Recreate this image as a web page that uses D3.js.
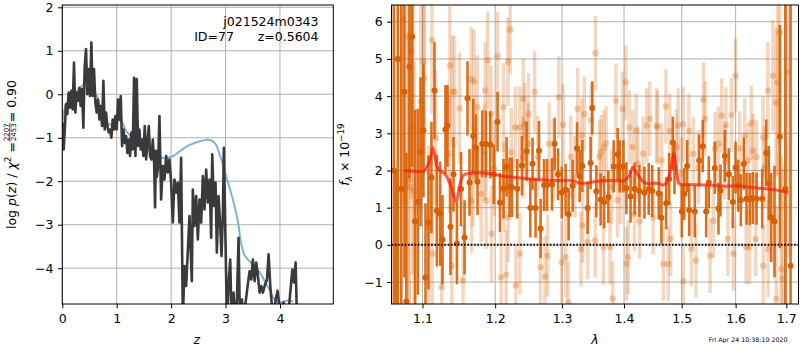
<!DOCTYPE html>
<html><head><meta charset="utf-8">
<script src="https://cdn.jsdelivr.net/npm/d3@7"></script>
<style>body{margin:0;background:#fff}svg{font-family:"DejaVu Sans";display:block}</style>
</head><body><svg id="c" width="800" height="350"></svg>
<script>
// ---------- left panel: redshift PDF ----------
const pzZ=[0.006,0.025,0.049,0.067,0.092,0.117,0.141,0.166,0.19,0.215,0.239,0.264,0.288,0.313,0.337,0.362,0.387,0.411,0.436,0.46,0.485,0.509,0.534,0.558,0.583,0.607,0.632,0.656,0.681,0.706,0.73,0.755,0.779,0.804,0.828,0.853,0.877,0.902,0.926,0.951,0.975,1.0,1.025,1.049,1.074,1.098,1.123,1.147,1.172,1.196,1.221,1.245,1.27,1.294,1.319,1.344,1.368,1.393,1.417,1.442,1.466,1.491,1.515,1.54,1.564,1.589,1.613,1.638,1.663,1.687,1.705,1.72,1.736,1.761,1.785,1.816,1.847,1.877,1.908,1.939,1.969,2.0,2.031,2.061,2.092,2.123,2.153,2.184,2.215,2.245,2.276,2.337,2.38,2.399,2.429,2.46,2.491,2.521,2.552,2.583,2.613,2.644,2.675,2.706,2.736,2.755,2.785,2.816,2.84,2.871,2.902,2.926,2.951,2.969,2.994,3.025,3.061,3.086,3.11,3.147,3.172,3.209,3.239,3.264,3.301,3.331,3.368,3.405,3.442,3.472,3.503,3.534,3.564,3.595,3.626,3.656,3.687,3.718,3.761,3.791,3.822,3.847,3.883,3.92,3.957,3.982,4.025,4.067,4.104,4.141,4.178,4.227,4.258,4.288,4.313];
const pzLogP=[-0.65,-1.27,-0.73,-0.23,-0.46,0.04,-0.31,0.08,-0.35,0.73,-0.42,0.04,-0.15,0.15,-0.27,0.12,-0.77,0.62,1.04,0,0.58,-0.04,1.19,-0.04,0.58,-0.19,-0.42,-0.12,-0.58,-0.27,-0.73,0.31,-0.81,-0.42,-0.73,-0.88,-0.81,-1.0,-0.58,-0.81,-0.5,-0.81,-0.12,-0.58,-0.04,-1.19,-0.81,-1.12,-0.96,-1.35,-1.04,-1.42,-0.88,-1.27,0.38,-1.42,0.35,-1.19,-0.81,-1.27,-1.04,-1.42,-0.73,-1.5,-1.12,-0.73,-1.42,-1.5,-1.04,-1.58,-2.6,-1.3,-1.9,-1.65,-0.5,-2.42,-1.65,-1.96,-1.42,-1.8,-1.5,-2.03,-2.95,-1.96,-2.26,-2.03,-2.95,-1.46,-5.2,-3.95,-4.41,-2.8,-4.3,-2.19,-3.03,-2.34,-3.34,-2.42,-2.95,-1.88,-2.65,-1.73,-2.49,-1.96,-3.3,-1.38,-2.57,-2.03,-3.64,-2.34,-3.03,-3.72,-2.72,-1.23,-3.03,-5.2,-4.26,-3.8,-5.2,-4.56,-5.2,-4.72,-3.3,-5.2,-4.72,-5.2,-4.79,-4.41,-4.07,-4.26,-3.8,-4.3,-3.87,-4.18,-4.56,-4.41,-4.56,-4.41,-4.26,-3.68,-4.41,-4.79,-5.2,-4.72,-4.52,-4.79,-5.2,-4.79,-5.2,-5.2,-4.72,-4.03,-4.33,-3.87,-5.2];
const priorZ=[0,0.08,0.2,0.33,0.42,0.48,0.55,0.63,0.69,0.76,0.82,0.94,1.03,1.1,1.18,1.3,1.43,1.55,1.67,1.86,2.04,2.17,2.29,2.41,2.53,2.63,2.72,2.82,2.89,2.95,3.01,3.1,3.17,3.23,3.29,3.35,3.44,3.53,3.63,3.75,3.83,3.9,4.0,4.12,4.24];
const priorLogP=[-0.66,-0.2,-0.05,0.15,0.25,0.25,0.15,-0.02,-0.28,-0.55,-0.66,-0.7,-0.59,-0.65,-0.86,-1.0,-1.12,-1.25,-1.35,-1.47,-1.42,-1.3,-1.2,-1.13,-1.08,-1.05,-1.05,-1.15,-1.38,-1.6,-1.88,-2.26,-2.6,-2.95,-3.45,-3.7,-3.84,-3.95,-4.1,-4.37,-4.55,-4.72,-4.79,-4.75,-4.76];
const zTicks=[0,1,2,3,4];
const logpTicks=[-4,-3,-2,-1,0,1,2];
const objName="j021524m0343";
const objInfo="ID=77      z=0.5604";

// ---------- right panel: spectrum ----------
const g1Lam=[1.063,1.066,1.068,1.0725,1.0765,1.079,1.083,1.0866,1.0904,1.094,1.0975,1.1013,1.104,1.1079,1.1119,1.1159,1.1191,1.1236,1.1267,1.1307,1.1334,1.1375,1.1416,1.1463,1.152,1.1568,1.1609,1.1637,1.1689,1.1727,1.1749,1.1815,1.1868,1.1929,1.198,1.2034,1.2069,1.2121,1.2165,1.2208,1.2243,1.2321,1.2391,1.2459,1.2515,1.2549,1.2594,1.2646,1.267,1.2722,1.2768,1.2844,1.2885,1.2937,1.2995,1.3055,1.3102,1.3165,1.3235,1.3276,1.3319,1.3404,1.3452,1.3479,1.3544,1.3614,1.367,1.374,1.3828,1.3894,1.3928,1.399,1.404,1.411,1.418,1.426,1.4346,1.442,1.448,1.4594,1.4641,1.4724,1.4777,1.4841,1.4871,1.5002,1.5045,1.5099,1.5135,1.5237,1.5317,1.5383,1.5446,1.5494,1.5606,1.5675,1.5713,1.5794,1.587,1.5946,1.5998,1.605,1.61,1.6158,1.621,1.6274,1.6333,1.6405,1.6517,1.6596,1.6648,1.6696,1.6762,1.6869,1.698,1.7087];
const g1Flux=[2.0,-3.0,5.0,1.5,4.12,-1.52,4.79,5.6,0.63,1.16,2.5,3.08,-0.88,0.6,1.81,4.15,0.92,0.84,0.14,3.1,3.2,0.49,1.9,0.04,1.5,0.2,3.94,1.68,2.93,2.62,1.7,2.72,2.71,2.69,1.9,3.31,1.14,1.51,2.1,1.55,1.55,1.51,2.13,2.52,1.0,2.18,0.99,2.53,0.44,1.61,1.61,1.62,2.72,1.9,1.41,1.48,0.82,1.59,2.6,1.85,2.12,0.99,2.2,3.68,1.44,1.22,1.15,1.29,2.11,2.44,2.11,2.11,1.52,1.3,1.51,1.45,1.4,1.5,1.45,1.39,0.73,1.12,1.77,2.75,2.07,0.9,1.37,2.12,0.94,0.9,2.27,2.65,0.9,1.68,2.07,0.98,1.46,2.39,1.9,1.15,2.08,1.59,1.2,2.18,1.24,1.23,1.26,1.24,1.24,2.47,1.66,0.74,0.63,2.91,1.5,-0.56];
const g1Err=[9,5,7,6,5,4,3,3.5,3,2.5,2,1.8,2,1.8,1.5,1.3,1.5,1.4,1.2,1.2,1.1,1.3,1.0,1.1,1.0,1.0,1.0,0.9,1.0,0.9,0.9,0.9,0.9,0.9,0.8,0.8,0.8,0.8,0.8,0.8,0.8,0.8,0.8,0.8,0.8,0.7,0.8,0.8,0.8,0.7,0.7,0.7,0.7,0.7,0.7,0.7,0.7,0.7,0.7,0.7,0.7,0.7,0.7,0.72,0.7,0.7,0.7,0.7,0.7,0.7,0.7,0.7,0.7,0.7,0.7,0.7,0.7,0.7,0.7,0.7,0.7,0.7,0.7,0.7,0.7,0.7,0.7,0.7,0.7,0.7,0.7,0.7,0.7,0.7,0.7,0.7,0.7,0.7,0.7,0.7,0.7,0.7,0.7,0.7,0.7,0.7,0.7,0.7,0.8,0.9,1.0,1.2,1.5,3,9,9];
const g2Lam=[1.075,1.0806,1.0819,1.0829,1.0853,1.0875,1.089,1.0978,1.1014,1.1024,1.1083,1.1125,1.113,1.1176,1.1256,1.1361,1.1367,1.1394,1.1399,1.1431,1.15,1.1547,1.1663,1.1665,1.1686,1.17,1.1746,1.1801,1.1847,1.1857,1.1871,1.1894,1.194,1.1947,1.1986,1.2036,1.2085,1.2119,1.2125,1.2159,1.2184,1.2188,1.2218,1.2233,1.2292,1.23,1.2356,1.236,1.2406,1.2411,1.243,1.2481,1.2489,1.2579,1.2629,1.2668,1.2737,1.2777,1.2801,1.2866,1.295,1.2994,1.3016,1.3058,1.3097,1.3135,1.32,1.3244,1.3297,1.3308,1.3325,1.3351,1.3406,1.346,1.3525,1.353,1.3594,1.3622,1.366,1.3666,1.3703,1.3768,1.3795,1.3812,1.3865,1.3893,1.3946,1.3974,1.403,1.4039,1.407,1.4088,1.4147,1.4175,1.4205,1.4235,1.4263,1.4323,1.4386,1.4439,1.4498,1.4556,1.4574,1.4644,1.4674,1.4719,1.4761,1.4789,1.4802,1.4907,1.4937,1.4995,1.5026,1.503,1.513,1.5174,1.5211,1.5259,1.5304,1.5396,1.5426,1.5519,1.5581,1.5611,1.5674,1.5735,1.5796,1.5815,1.5852,1.592,1.5957,1.6,1.6078,1.6175,1.6202,1.6241,1.6266,1.6305,1.6338,1.6389,1.6403,1.6533,1.6537,1.6565,1.663,1.6634,1.6728,1.6792,1.6798,1.6825,1.687,1.6895,1.6922,1.7039];
const g2Flux=[6.06,5.6,1.75,1.55,5.22,3.2,1.44,3.86,4.93,4.48,0.47,5.51,-0.24,2.88,-1.14,2.45,4.82,-0.57,4.12,4.12,3.67,-0.96,4.46,1.19,1.88,4.39,3.7,1.37,2.5,4.15,1.19,4.97,3.52,0.3,2.06,5.07,-0.88,3.7,1.55,-0.8,4.93,0.74,5.79,2.49,3.16,-1.09,3.16,-0.24,2.35,3.92,3.25,2.72,3.52,4.12,2.37,-0.6,-0.85,-0.29,2.72,2.28,3.97,-0.47,3.23,-0.33,-1.54,2.37,1.83,3.66,-0.11,2.94,0.52,3.52,0.07,3.36,0.12,5.16,2.37,2.49,-0.06,2.62,2.73,-0.06,1.56,-1.44,3.88,1.2,1.56,3.66,4.37,-0.51,-0.33,3.16,2.63,0.83,3.07,2.18,0.63,2.45,3.21,3.39,0.74,3.21,3.16,2.27,-0.51,3.72,-0.51,3.07,0.16,2.63,3.21,1.91,3.25,-0.98,3.07,-0.11,2.45,-0.42,2.09,3.91,3.39,-0.29,0.65,2.58,2.72,3.48,2.23,3.23,0.16,3.49,-0.24,4.55,2.59,2.94,-0.06,2.27,-0.06,3.28,2.53,0.16,2.36,2.89,-0.56,2.09,4.15,-0.11,4.55,3.83,-1.45,4.37,5.71,-0.65,-0.91,4.64];
const g2Err=[5,4,4,4,4,4,3.5,3,2.5,2.5,2.2,2,2,1.8,1.8,1.6,1.6,1.6,1.5,1.5,1.5,1.5,1.4,1.4,1.4,1.4,1.4,1.3,1.3,1.3,1.3,1.3,1.3,1.3,1.3,1.2,1.2,1.2,1.2,1.2,1.2,1.2,1.2,1.2,1.1,1.1,1.1,1.1,1.1,1.1,1.1,1.1,1.1,1.1,1.1,1.1,1.1,1.1,1.1,1.1,1.1,1.1,1.1,1.1,1.1,1.1,1.1,1.1,1.0,1.0,1.0,1.0,1.0,1.0,1.0,1.0,1.0,1.0,1.0,1.0,1.0,1.0,1.0,1.0,1.0,1.0,1.0,1.0,1.0,1.0,1.0,1.0,1.0,1.0,1.0,1.0,1.0,1.0,1.0,1.0,1.0,1.0,1.0,1.0,1.0,1.0,1.0,1.0,1.0,1.0,1.0,1.0,1.0,1.0,1.0,1.0,1.0,1.0,1.0,1.0,1.0,1.0,1.0,1.0,1.0,1.0,1.0,1.0,1.0,1.0,1.0,1.0,1.0,1.0,1.0,1.0,1.0,1.0,1.0,1.0,1.0,1.1,1.1,1.1,1.3,1.3,1.5,2,2.5,2.5,3,3,3,5];
const modelLam=[1.076,1.09,1.097,1.1014,1.106,1.1107,1.1139,1.1176,1.1208,1.127,1.1315,1.1385,1.1454,1.15,1.1547,1.1617,1.1756,1.194,1.2134,1.238,1.2675,1.2875,1.3135,1.332,1.356,1.3784,1.4,1.4088,1.4147,1.4205,1.4293,1.441,1.4556,1.4674,1.4732,1.4802,1.486,1.4907,1.4965,1.5148,1.5457,1.5767,1.6078,1.6403,1.6728,1.7045];
const modelFlux=[2.0,1.98,1.97,1.98,2.1,2.34,2.62,2.26,2.04,1.95,1.86,1.55,1.16,1.59,1.86,1.92,1.94,1.91,1.84,1.8,1.75,1.73,1.73,1.66,1.71,1.73,1.73,1.86,2.09,1.95,1.75,1.64,1.66,1.61,1.68,2.0,2.46,2.0,1.64,1.62,1.61,1.58,1.58,1.53,1.49,1.41];
const lamTicks=[1.1,1.2,1.3,1.4,1.5,1.6,1.7];
const fluxTicks=[-1,0,1,2,3,4,5,6];
const dateText="Fri Apr 24 10:38:19 2020";

const svg=d3.select("#c");
const FS=12.5, GRID="#b0b0b0", ORANGE="#d95f02";
const L={x0:62.3,x1:333.3,y0:5,y1:304};
const R={x0:391.5,x1:798.5,y0:5,y1:304};

const xz=d3.scaleLinear().domain([0,4.98]).range([L.x0,L.x1]);
const yp=d3.scaleLinear().domain([-4.823,2.053]).range([L.y1,L.y0]);
const xl=d3.scaleLog().domain([1.06,1.725]).range([R.x0,R.x1]);
const yf=d3.scaleLinear().domain([-1.59,6.45]).range([R.y1,R.y0]);

const defs=svg.append("defs");
defs.append("clipPath").attr("id","clipL").append("rect").attr("x",L.x0).attr("y",L.y0).attr("width",L.x1-L.x0).attr("height",L.y1-L.y0);
defs.append("clipPath").attr("id","clipR").append("rect").attr("x",R.x0).attr("y",R.y0).attr("width",R.x1-R.x0).attr("height",R.y1-R.y0);

function grid(P,xs,ys,xt,yt){
  const g=svg.append("g");
  g.selectAll(".gx").data(xt).join("line").attr("x1",d=>xs(d)).attr("x2",d=>xs(d)).attr("y1",P.y0).attr("y2",P.y1).attr("stroke",GRID).attr("stroke-width",1);
  g.selectAll(".gy").data(yt).join("line").attr("y1",d=>ys(d)).attr("y2",d=>ys(d)).attr("x1",P.x0).attr("x2",P.x1).attr("stroke",GRID).attr("stroke-width",1);
}
function axes(P,xs,ys,xt,yt,xf,yfmt){
  const ax=svg.append("g").attr("transform",`translate(0,${P.y1})`).call(d3.axisBottom(xs).tickValues(xt).tickFormat(xf).tickSize(4.4).tickPadding(4.4));
  const ay=svg.append("g").attr("transform",`translate(${P.x0},0)`).call(d3.axisLeft(ys).tickValues(yt).tickFormat(yfmt).tickSize(4.4).tickPadding(4.4));
  [ax,ay].forEach(a=>{a.attr("font-family","DejaVu Sans").attr("font-size",FS);a.select(".domain").remove();a.selectAll("line").attr("stroke","#000");a.selectAll("text").attr("fill","#000");});
  ax.selectAll("text").attr("dy","0.78em");
  svg.append("rect").attr("x",P.x0).attr("y",P.y0).attr("width",P.x1-P.x0).attr("height",P.y1-P.y0).attr("fill","none").attr("stroke","#000").attr("stroke-width",1);
}

// ---------- left panel ----------
grid(L,xz,yp,zTicks,logpTicks);
const gl=svg.append("g").attr("clip-path","url(#clipL)");
gl.append("path").datum(d3.range(priorZ.length)).attr("fill","none").attr("stroke","#7fb2da").attr("stroke-width",2)
  .attr("d",d3.line().x(i=>xz(priorZ[i])).y(i=>yp(priorLogP[i])).curve(d3.curveCatmullRom));
gl.append("path").datum(d3.range(pzZ.length)).attr("fill","none").attr("stroke","#3a3a3a").attr("stroke-width",2.6).attr("stroke-linejoin","round")
  .attr("d",d3.line().x(i=>xz(pzZ[i])).y(i=>yp(pzLogP[i])));
axes(L,xz,yp,zTicks,logpTicks,d3.format("d"),d3.format("d"));

svg.append("text").attr("x",318.5).attr("y",25.8).attr("text-anchor","end").attr("font-size",FS).text(objName);
svg.append("text").attr("x",318.5).attr("y",40.7).attr("text-anchor","end").attr("font-size",FS).attr("xml:space","preserve").style("white-space","pre").text(objInfo);
svg.append("text").attr("x",196.7).attr("y",343.5).attr("text-anchor","middle").attr("font-size",FS).attr("font-style","italic").text("z");

// left y label with fraction
(function(){
  const g=svg.append("g").attr("transform","translate(16,154.5) rotate(-90)").attr("font-size",FS);
  const t1=g.append("text");
  t1.append("tspan").text("log ");
  t1.append("tspan").attr("font-style","italic").text("p");
  t1.append("tspan").text("(");
  t1.append("tspan").attr("font-style","italic").text("z");
  t1.append("tspan").text(") / ");
  t1.append("tspan").attr("font-style","italic").text("χ");
  t1.append("tspan").attr("font-size",8.75).attr("dy",-5).text("2");
  t1.append("tspan").attr("dy",5).text(" = ");
  const w1=t1.node().getComputedTextLength();
  const num=g.append("text").attr("font-size",7).attr("text-anchor","middle").text("2207");
  const den=g.append("text").attr("font-size",7).attr("text-anchor","middle").text("2453");
  const fw=Math.max(num.node().getComputedTextLength(),den.node().getComputedTextLength())+2;
  const t2=g.append("text").text(" = 0.90");
  const w2=t2.node().getComputedTextLength();
  const s=-(w1+fw+w2)/2;
  t1.attr("x",s);
  num.attr("x",s+w1+fw/2).attr("y",-7);
  den.attr("x",s+w1+fw/2).attr("y",-0.4);
  g.append("line").attr("x1",s+w1+0.5).attr("x2",s+w1+fw-0.5).attr("y1",-6.2).attr("y2",-6.2).attr("stroke","#000").attr("stroke-width",0.7);
  t2.attr("x",s+w1+fw);
})();

// ---------- right panel ----------
grid(R,xl,yf,lamTicks,fluxTicks);
const gr=svg.append("g").attr("clip-path","url(#clipR)");
const i2=d3.range(g2Lam.length), i1=d3.range(g1Lam.length);
gr.append("g").selectAll("line").data(i2).join("line")
  .attr("x1",i=>xl(g2Lam[i])).attr("x2",i=>xl(g2Lam[i])).attr("y1",i=>yf(g2Flux[i]-g2Err[i])).attr("y2",i=>yf(g2Flux[i]+g2Err[i]))
  .attr("stroke",ORANGE).attr("stroke-opacity",0.25).attr("stroke-width",3.5);
gr.append("g").selectAll("circle").data(i2).join("circle")
  .attr("cx",i=>xl(g2Lam[i])).attr("cy",i=>yf(g2Flux[i])).attr("r",3.2).attr("fill",ORANGE).attr("fill-opacity",0.3);
gr.append("g").selectAll("line").data(i1).join("line")
  .attr("x1",i=>xl(g1Lam[i])).attr("x2",i=>xl(g1Lam[i])).attr("y1",i=>yf(g1Flux[i]-g1Err[i])).attr("y2",i=>yf(g1Flux[i]+g1Err[i]))
  .attr("stroke",ORANGE).attr("stroke-opacity",0.9).attr("stroke-width",2.6);
gr.append("g").selectAll("circle").data(i1).join("circle")
  .attr("cx",i=>xl(g1Lam[i])).attr("cy",i=>yf(g1Flux[i])).attr("r",3).attr("fill",ORANGE);
gr.append("path").datum(d3.range(modelLam.length)).attr("fill","none").attr("stroke","#ff1a0a").attr("stroke-opacity",0.7).attr("stroke-width",3).attr("stroke-linejoin","round")
  .attr("d",d3.line().x(i=>xl(modelLam[i])).y(i=>yf(modelFlux[i])).curve(d3.curveCatmullRom));
gr.append("line").attr("x1",R.x0).attr("x2",R.x1).attr("y1",yf(0)).attr("y2",yf(0)).attr("stroke","#000").attr("stroke-width",2).attr("stroke-dasharray","1.6,1.7");
axes(R,xl,yf,lamTicks,fluxTicks,d3.format(".1f"),d3.format("d"));

svg.append("text").attr("x",595).attr("y",344).attr("text-anchor","middle").attr("font-size",FS).attr("font-style","italic").text("λ");
(function(){
  const t=svg.append("text").attr("transform","translate(349,154.5) rotate(-90)").attr("text-anchor","middle").attr("font-size",FS);
  t.append("tspan").attr("font-style","italic").text("f");
  t.append("tspan").attr("font-style","italic").attr("font-size",8.75).attr("dy",2.5).text("λ");
  t.append("tspan").attr("dy",-2.5).text(" × 10");
  t.append("tspan").attr("font-size",8.75).attr("dy",-5.5).text("−19");
})();
svg.append("text").attr("x",787.5).attr("y",341.7).attr("text-anchor","end").attr("font-size",6.3).text(dateText);
</script></body></html>
